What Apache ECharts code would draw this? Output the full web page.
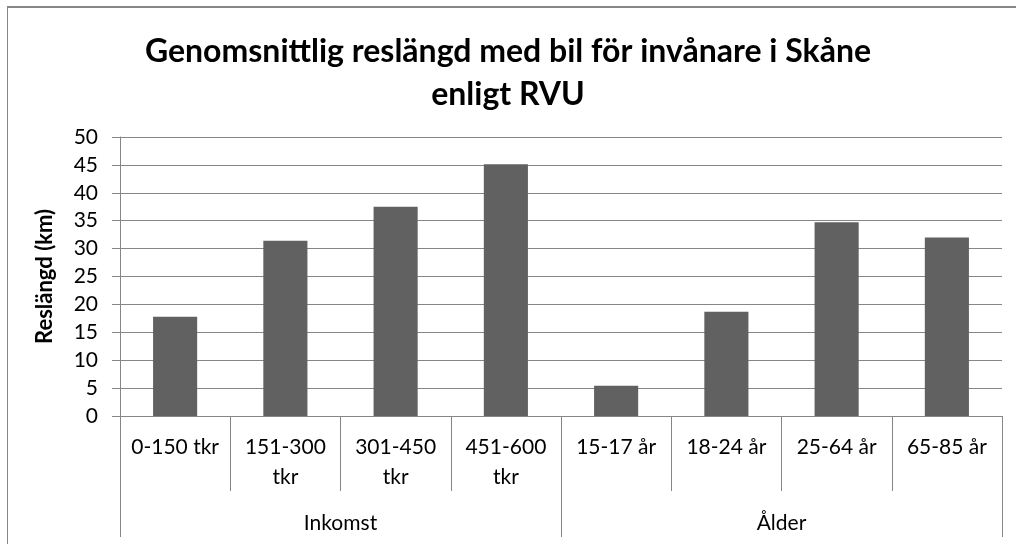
<!DOCTYPE html>
<html><head><meta charset="utf-8">
<script src="https://cdn.jsdelivr.net/npm/echarts@6/dist/echarts.min.js"></script>
<style>html,body{margin:0;padding:0;background:#fff}#c{width:1016px;height:544px}</style>
</head><body><div id="c"></div>
<script>
const titleText = 'Genomsnittlig reslängd med bil för invånare i Skåne\nenligt RVU';
const categories = ['0-150 tkr', '151-300\ntkr', '301-450\ntkr', '451-600\ntkr', '15-17 år', '18-24 år', '25-64 år', '65-85 år'];
const groups = ['Inkomst', 'Ålder'];
const values = [17.8, 31.4, 37.5, 45.1, 5.4, 18.7, 34.7, 32.0];
const yName = 'Reslängd (km)';

const FONT = 'Lato, "Open Sans", sans-serif';
const GRAY = '#868686';
const chart = echarts.init(document.getElementById('c'));
chart.setOption({
  animation: false,
  title: {
    text: titleText, left: 'center', top: 25,
    textStyle: { fontFamily: FONT, fontSize: 32, fontWeight: 'bold', color: '#000', lineHeight: 43 }
  },
  grid: { left: 120, right: 14, top: 137, bottom: 128, containLabel: false },
  xAxis: [{
    type: 'category', data: categories, position: 'bottom',
    axisLine: { show: true, lineStyle: { color: GRAY, width: 1 } },
    axisTick: { show: true, interval: 0, length: 75, lineStyle: { color: GRAY } },
    axisLabel: { interval: 0, margin: 16, fontFamily: FONT, fontSize: 21, color: '#000', lineHeight: 30, verticalAlign: 'top' }
  }, {
    type: 'category', data: groups, position: 'bottom',
    axisLine: { show: false },
    axisTick: { show: true, interval: 0, length: 121, lineStyle: { color: GRAY } },
    axisLabel: { interval: 0, margin: 107, fontFamily: FONT, fontSize: 21, color: '#000', lineHeight: 20, verticalAlign: 'middle' }
  }],
  yAxis: {
    type: 'value', min: 0, max: 50, interval: 5,
    name: yName, nameLocation: 'middle', nameGap: 64, nameRotate: 90,
    nameTextStyle: { fontFamily: FONT, fontSize: 22, fontWeight: 'bold', color: '#000' },
    axisLine: { show: true, lineStyle: { color: GRAY } },
    axisTick: { show: true, length: 8, lineStyle: { color: GRAY } },
    axisLabel: { margin: 22, fontFamily: FONT, fontSize: 21, color: '#000' },
    splitLine: { show: true, lineStyle: { color: GRAY, width: 1 } }
  },
  series: [{
    type: 'bar', data: values, xAxisIndex: 0, barWidth: '40%',
    itemStyle: { color: '#616161' }
  }],
  graphic: [
    { type: 'line', shape: { x1: 7, y1: 7, x2: 1016, y2: 7 }, style: { stroke: GRAY, lineWidth: 2 } },
    { type: 'line', shape: { x1: 7.5, y1: 6, x2: 7.5, y2: 544 }, style: { stroke: GRAY, lineWidth: 1 } }
  ]
});
</script></body></html>
